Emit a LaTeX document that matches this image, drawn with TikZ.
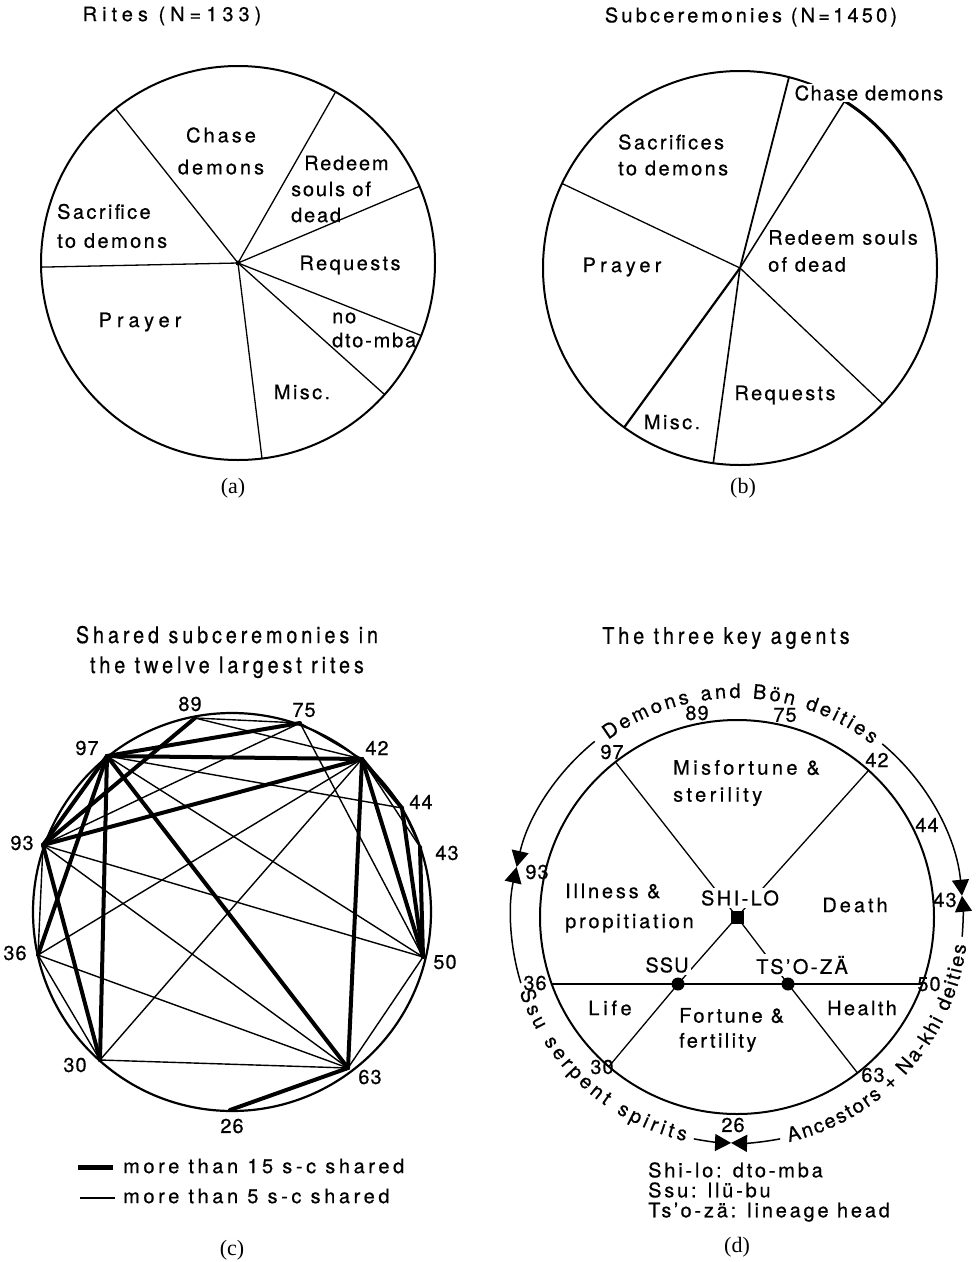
\documentclass[tikz,border=0pt]{standalone}
\usepackage{fontspec}
\setmainfont{TeX Gyre Heros}[FakeBold=0.6]
\newfontfamily\capf{Liberation Serif}
\newfontfamily\condf{TeX Gyre Heros}[FakeStretch=0.86,LetterSpace=17,FakeBold=0.6]
\newfontfamily\arcf{TeX Gyre Heros}[FakeBold=0.6]
\usetikzlibrary{arrows.meta,decorations.text,calc}
\newcommand{\myfs}[2]{\fontsize{#1}{#2}\selectfont}
\newcommand{\lsp}[1]{\addfontfeature{LetterSpace=#1}}
\begin{document}
\begin{tikzpicture}[x=1pt,y=-1pt,
  lab/.style={font=\myfs{20}{26}\lsp{12}, inner sep=0pt},
  num/.style={font=\myfs{20}{22}\lsp{5}, inner sep=0pt},
  capt/.style={font=\capf\myfs{22}{26}, inner sep=0pt},
  ttl/.style={font=\condf\myfs{23}{30}, inner sep=0pt, align=center},
  rim/.style={line width=2pt},
  spoke/.style={line width=1.3pt},
  heavy/.style={line width=4pt, line cap=round},
  light/.style={line width=1.4pt},
  outer/.style={line width=1.5pt},
  tip/.style={-{Triangle[length=16pt,width=17pt]}},
  agent/.style={lab, fill=white, inner sep=2pt},
  dot/.style={circle, fill, inner sep=0pt, minimum size=13pt},
]
\useasboundingbox (0,0) rectangle (979,1262);

% ---------------- (a)
\coordinate (ca) at (238,263);
\draw[rim] (ca) circle (197pt);
\foreach \a [count=\i] in {128.4,60.3,22.9,-21.6,-41.9,-83,181.2}{
  \coordinate (a\i) at ($(ca)+(\a:197pt)$);
  \draw[spoke] (ca) -- (a\i);}
\fill (ca) circle (2.5pt);
\node[lab, font=\myfs{20}{26}\lsp{25}] (atitle) at (172,16) {Rites (N=133)};
\node[lab, align=center, font=\myfs{20}{32}\lsp{15}] (achase) at (221,151) {Chase\\demons};
\node[lab, align=left, anchor=west, font=\myfs{20}{26}\lsp{9}] (aredeem) at (291,189) {\hspace*{13pt}Redeem\\souls of\\dead};
\node[lab, align=left, anchor=west, font=\myfs{20}{29}\lsp{12}] (asacr) at (57,226) {Sacrifice\\to demons};
\node[lab] (areq) at (350,265) {Requests};
\node[lab, align=left, anchor=west, font=\myfs{20}{24}\lsp{9}] (ano) at (332,330) {no\\dto-mba};
\node[lab, font=\myfs{20}{26}\lsp{25}] (apray) at (140,322) {Prayer};
\node[lab] (amisc) at (302,392) {Misc.};
\node[capt] (acap) at (233,488) {(a)};

% ---------------- (b)
\coordinate (cb) at (740,268);
\draw[rim] (cb) circle (197pt);
\foreach \a/\w [count=\i] in {75.6/1.8,57.9/1.5,-43.6/1.3,-97.8/1.6,-126/2.2,154.6/1.3}{
  \coordinate (b\i) at ($(cb)+(\a:197pt)$);
  \draw[line width=\w pt] (cb) -- (b\i);}
\draw[line width=3pt] ($(cb)+(57.9:197pt)$) arc[start angle=57.9, end angle=33, radius=197pt];
\node[lab, font=\myfs{20}{26}\lsp{16}] (btitle) at (751,17) {Subceremonies (N=1450)};
\node[lab, fill=white, inner sep=1pt, font=\myfs{20}{26}\lsp{7}] (bchase) at (869,93) {Chase demons};
\node[lab, align=left, anchor=west, font=\myfs{20}{26}\lsp{12}] (bsacr) at (618,155) {Sacrifices\\to demons};
\node[lab, align=left, anchor=west, font=\myfs{20}{27}\lsp{11}] (bredeem) at (768,251) {Redeem souls\\of dead};
\node[lab, font=\myfs{20}{26}\lsp{21}] (bpray) at (622,267) {Prayer};
\node[lab] (breq) at (785,395) {Requests};
\node[lab] (bmisc) at (672,422) {Misc.};
\node[capt] (bcap) at (743,488) {(b)};

% ---------------- (c)
\node[ttl] (ctitle) at (227,652) {Shared subceremonies in\\the twelve largest rites};
\coordinate (cc) at (232,912);
\draw[line width=2.2pt] (cc) circle (199pt);
\coordinate (n89) at (195,718);
\coordinate (n75) at (300,723);
\coordinate (n97) at (107,756);
\coordinate (n42) at (362,759);
\coordinate (n44) at (402,808);
\coordinate (n43) at (420,847);
\coordinate (n50) at (423,957);
\coordinate (n63) at (348,1068);
\coordinate (n26) at (230,1110);
\coordinate (n30) at (100,1060);
\coordinate (n36) at (38,955);
\coordinate (n93) at (43,845);
\foreach \u/\v in {89/75,89/42,75/42,75/50,75/93,97/50,97/44,93/50,93/63,42/30,42/36,36/63,36/30,30/63,63/50,44/43,42/43,93/36}
  \draw[light] (n\u) -- (n\v);
\foreach \u/\v in {97/75,97/42,97/93,97/36,97/30,97/63,93/89,93/42,93/30,42/63,42/50,42/44,44/50,43/50,63/26}
  \draw[heavy] (n\u) -- (n\v);
\node[num] (l89) at (190,704) {89};
\node[num] (l75) at (304,710) {75};
\node[num] (l97) at (87,748) {97};
\node[num] (l42) at (377,748) {42};
\node[num] (l44) at (421,802) {44};
\node[num] (l43) at (447,853) {43};
\node[num] (l50) at (445,962) {50};
\node[num] (l63) at (370,1077) {63};
\node[num] (l26) at (232,1126) {26};
\node[num] (l30) at (75,1065) {30};
\node[num] (l36) at (15,953) {36};
\node[num] (l93) at (22,843) {93};
\coordinate (k1a) at (78,1167); \coordinate (k1b) at (113,1167);
\coordinate (k2a) at (80,1198); \coordinate (k2b) at (115,1198);
\draw[line width=5pt] (k1a) -- (k1b);
\draw[line width=1.3pt] (k2a) -- (k2b);
\node[lab, anchor=west, font=\myfs{20}{26}\lsp{18}] (key1) at (123,1166) {more than 15 s-c shared};
\node[lab, anchor=west, font=\myfs{20}{26}\lsp{18}] (key2) at (123,1196) {more than 5 s-c shared};
\node[capt] (ccap) at (232,1250) {(c)};

% ---------------- (d)
\node[ttl] (dtitle) at (726,638) {The three key agents};
\coordinate (cd) at (737,917);
\draw[rim] (cd) circle (197pt);
\coordinate (p97) at ($(cd)+(128.1:197pt)$);
\coordinate (p42) at ($(cd)+(48.1:197pt)$);
\coordinate (p30) at ($(cd)+(-130.6:197pt)$);
\coordinate (p63) at ($(cd)+(-52.3:197pt)$);
\coordinate (p36) at ($(cd)+(199.9:197pt)$);
\coordinate (p50) at ($(cd)+(-19.9:197pt)$);
\node[rectangle, fill, inner sep=0pt, minimum size=13pt] (shilo) at (737,917) {};
\node[dot] (ssu) at (678,984) {};
\node[dot] (tso) at (788,984) {};
\draw[spoke] (p36) -- (p50);
\draw[spoke] (p97) -- (shilo.center);
\draw[spoke] (p42) -- (shilo.center);
\draw[spoke] (shilo.center) -- (ssu.center) -- (p30);
\draw[spoke] (shilo.center) -- (tso.center) -- (p63);
\node[agent] (tshilo) at (740,898) {SHI-LO};
\node[agent, font=\myfs{20}{26}\lsp{5}] (tssu) at (667,965) {SSU};
\node[agent] (ttso) at (802,965) {TS'O-ZÄ};
\node[lab, align=left, anchor=west, font=\myfs{20}{27}\lsp{17}] (misf) at (673,783) {Misfortune \&\\sterility};
\node[lab, align=left, anchor=west, font=\myfs{20}{30}\lsp{14}] (ill) at (565,908) {Illness \&\\propitiation};
\node[lab, font=\myfs{20}{26}\lsp{15}] (death) at (855,905) {Death};
\node[lab, font=\myfs{20}{26}\lsp{19}] (life) at (610,1008) {Life};
\node[lab] (health) at (862,1008) {Health};
\node[lab, align=left, anchor=west, font=\myfs{20}{25}\lsp{12}] (fort) at (679,1030) {Fortune \&\\fertility};
\node[num] (m89) at (697,713) {89};
\node[num] (m75) at (785,715) {75};
\node[num] (m97) at (612,752) {97};
\node[num] (m42) at (877,760) {42};
\node[num] (m44) at (927,825) {44};
\node[num] (m93) at (537,872) {93};
\node[num] (m43) at (945,900) {43};
\node[num] (m36) at (535,983) {36};
\node[num] (m50) at (929,984) {50};
\node[num] (m30) at (602,1067) {30};
\node[num] (m63) at (873,1075) {63};
\node[num] (m26) at (733,1125) {26};
% outer arcs with arrow tips
\draw[outer,tip] ($(cd)+(129:226pt)$) arc[start angle=129, end angle=167.2, radius=226pt];
\draw[outer,tip] ($(cd)+(197:226pt)$) arc[start angle=197, end angle=167.2, radius=226pt];
\draw[outer,tip] ($(cd)+(50:226pt)$) arc[start angle=50, end angle=5.4, radius=226pt];
\draw[outer,tip] ($(cd)+(-5:226pt)$) arc[start angle=-5, end angle=5.4, radius=226pt];
\draw[outer,tip] ($(cd)+(-79:226pt)$) arc[start angle=-79, end angle=-91.5, radius=226pt];
\draw[outer,tip] ($(cd)+(-101:226pt)$) arc[start angle=-101, end angle=-91.5, radius=226pt];
\path[decorate, decoration={text along path, text={|\arcf\myfs{20}{22}|Demons and Bön deities}, text align={fit to path}}]
  ($(cd)+(126:219pt)$) arc[start angle=126, end angle=52, radius=219pt];
\path[decorate, decoration={text along path, text={|\arcf\myfs{20}{22}|Ssu serpent spirits}, text align={fit to path}}]
  ($(cd)+(199:230pt)$) arc[start angle=199, end angle=257, radius=230pt];
\path[decorate, decoration={text along path, text={|\arcf\myfs{20}{22}|Ancestors + Na-khi deities}, text align={fit to path}}]
  ($(cd)+(-77:231pt)$) arc[start angle=-77, end angle=-7, radius=231pt];
\node[lab, align=left, anchor=west, font=\myfs{20}{20}\lsp{14}] (dkey) at (648,1192) {Shi-lo: dto-mba\\Ssu: llü-bu\\Ts'o-zä: lineage head};
\node[capt] (dcap) at (737,1247) {(d)};
\end{tikzpicture}
\end{document}
